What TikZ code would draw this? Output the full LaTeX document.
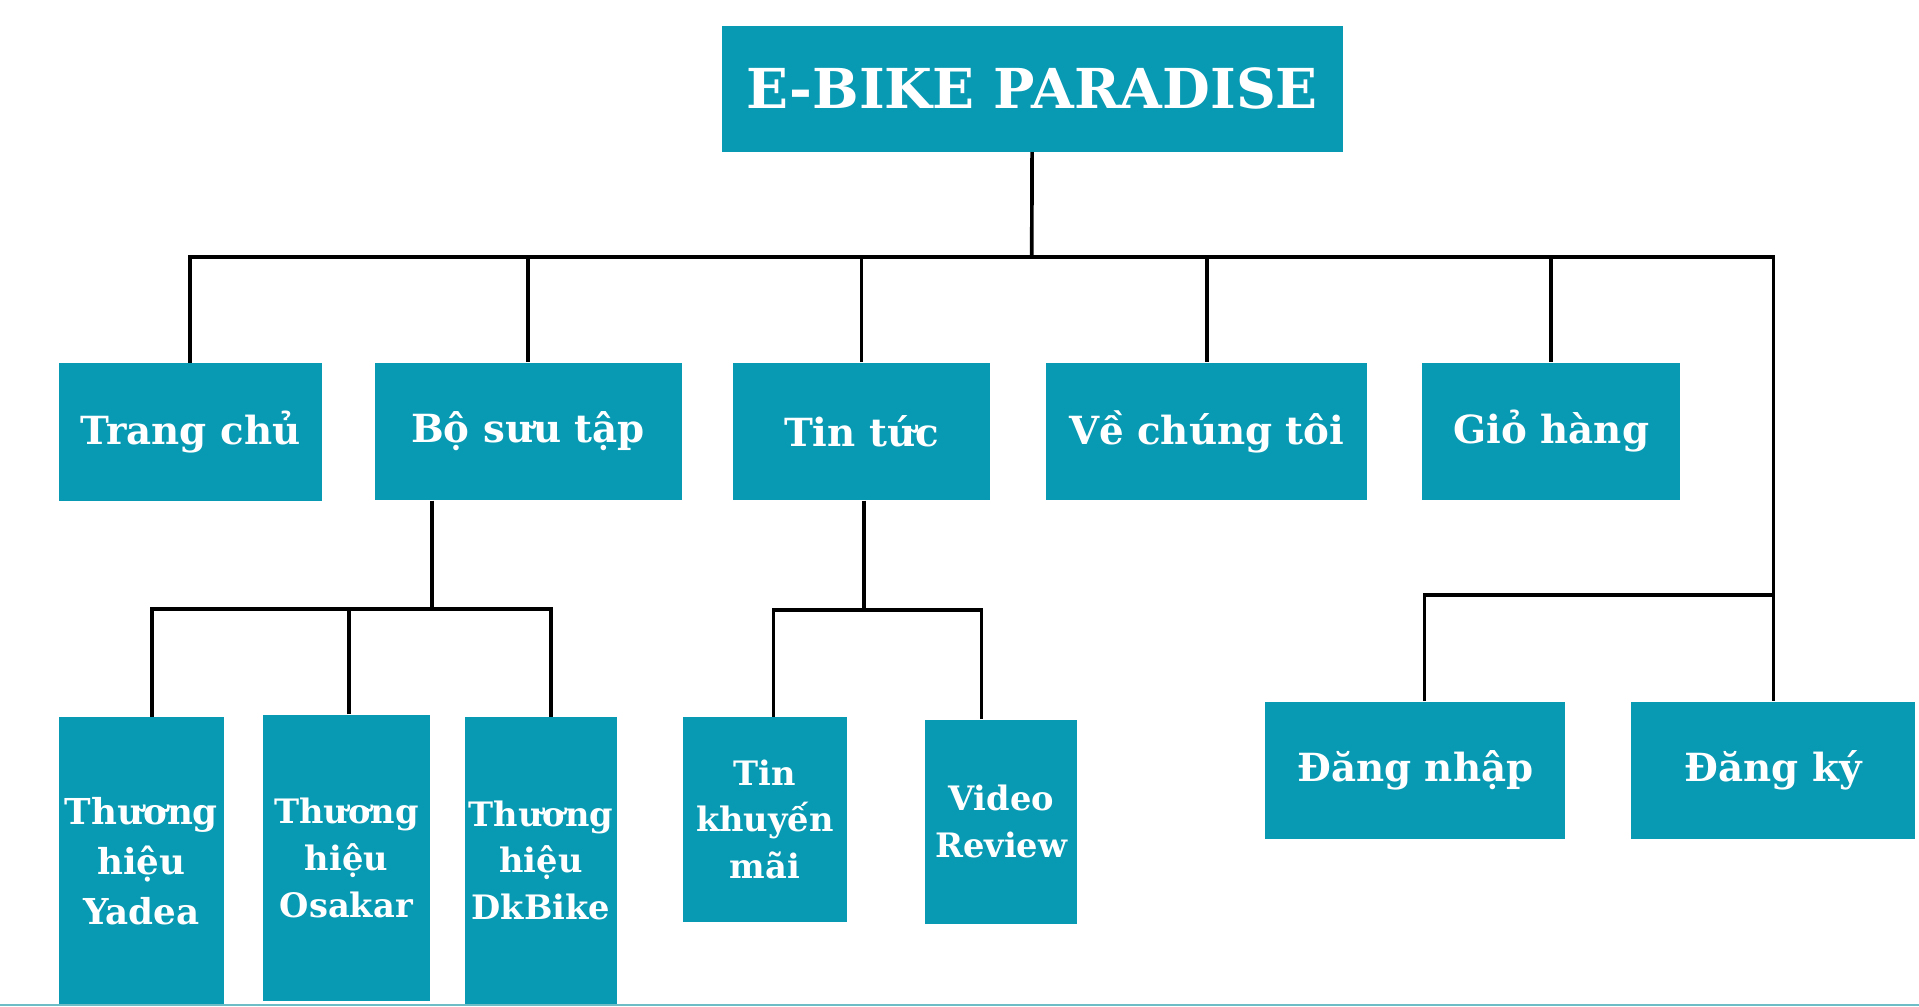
\documentclass[tikz,border=0pt]{standalone}
\usepackage{fontspec}
\setmainfont{DejaVu Serif}
\usepackage{tikz}
\definecolor{bikeblue}{HTML}{0899B3}
\definecolor{edgeline}{HTML}{6CBDC6}

\begin{document}
\begin{tikzpicture}[x=0.6pt,y=-0.6pt,
        box/.style={fill=bikeblue,text=white,inner sep=0pt,align=center},
        big/.style={box,font=\fontsize{19}{23}\selectfont\bfseries,minimum height=67.5pt},
        small/.style={box,font=\fontsize{16.5}{23}\selectfont\bfseries},
        link/.style={black,line width=1.8pt}]
    \useasboundingbox (0,0) rectangle (1568,822);
    % top
    \node[box,font=\fontsize{27}{32}\selectfont\bfseries,minimum width=304.2pt,minimum height=61.8pt] (root) at (843.5,72.5) {E-BIKE PARADISE};
    % first row
    \node[big,minimum width=129pt] (trang) at (155.5,353) {Trang chủ};
    \node[big,minimum width=150.6pt] (bosuu) at (431.5,352.5) {Bộ sưu tập};
    \node[big,minimum width=126pt] (tintuc) at (704,352.5) {Tin tức};
    \node[big,minimum width=157.2pt] (vechung) at (986,352.5) {Về chúng tôi};
    \node[big,minimum width=126.6pt] (giohang) at (1267.5,352.5) {Giỏ hàng};
    % second row
    \node[small,font=\fontsize{17.5}{24.5}\selectfont\bfseries,minimum width=81pt,minimum height=141.6pt] (yadea) at (115.5,704) {Thương\\hiệu\\Yadea};
    \node[small,minimum width=81.6pt,minimum height=140.4pt] (osakar) at (283,701) {Thương\\hiệu\\Osakar};
    \node[small,minimum width=74.4pt,minimum height=140.4pt] (dkbike) at (442,703) {Thương\\hiệu\\DkBike};
    \node[small,minimum width=80.4pt,minimum height=100.2pt] (tinkm) at (625,669.5) {Tin\\khuyến\\mãi};
    \node[small,minimum width=74.4pt,minimum height=100.2pt] (video) at (818,671.5) {Video\\Review};
    \node[big,minimum width=147pt] (dangnhap) at (1156.5,629.5) {Đăng nhập};
    \node[big,minimum width=139.2pt] (dangky) at (1449,629.5) {Đăng ký};
    % bus points
    \coordinate (bus) at (843,210);
    \coordinate (busR) at (1449,210);
    \coordinate (bsbus) at (353,497.5);
    \coordinate (ttbus) at (706,498.5);
    \coordinate (logbus) at (1449,486);
    \draw[link] (root) -- (bus);
    \draw[link] (trang.north) |- (bus);
    \draw[link] (bosuu.north) |- (bus);
    \draw[link] (tintuc.north) |- (bus);
    \draw[link] (vechung.north) |- (bus);
    \draw[link] (giohang.north) |- (bus);
    \draw[link] (bus) -- (busR) -- (dangky.north);
    \draw[link] (bosuu.south -| bsbus) -- (bsbus);
    \draw[link] ([xshift=5.1pt]yadea.north) |- (bsbus);
    \draw[link] ([xshift=1.2pt]osakar.north) |- (bsbus);
    \draw[link] ([xshift=4.8pt]dkbike.north) |- (bsbus);
    \draw[link] (tintuc.south -| ttbus) -- (ttbus);
    \draw[link] ([xshift=4.2pt]tinkm.north) |- (ttbus);
    \draw[link] ([xshift=-9.6pt]video.north) |- (ttbus);
    \draw[link] ([xshift=4.5pt]dangnhap.north) |- (logbus);
    \draw[edgeline,line width=0.8pt] (0,821.3) -- (1568,821.3);
\end{tikzpicture}
\end{document}
